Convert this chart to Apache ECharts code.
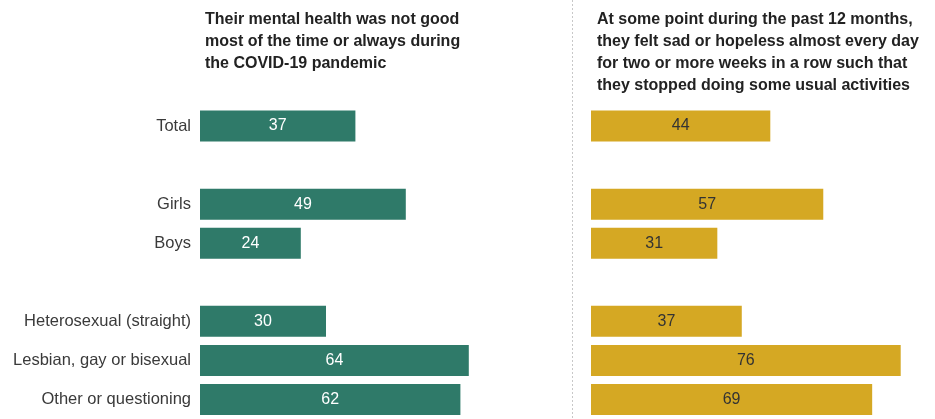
<!DOCTYPE html>
<html>
<head>
<meta charset="utf-8">
<script src="https://cdn.jsdelivr.net/npm/echarts@6/dist/echarts.min.js"></script>
<style>
  html, body { margin: 0; padding: 0; background: #fff; }
  #chart { width: 935px; height: 419px; }
</style>
</head>
<body>
<div id="chart"></div>
<script>
// categories (blank entries are spacer rows between groups)
const categories = ['Total', '', 'Girls', 'Boys', ' ', 'Heterosexual (straight)', 'Lesbian, gay or bisexual', 'Other or questioning']

// % mental health not good most of the time / always
const mentalHealth = [37, null, 49, 24, null, 30, 64, 62]
// % felt sad or hopeless almost every day for 2+ weeks
const sadHopeless = [44, null, 57, 31, null, 37, 76, 69]

const leftTitle = 'Their mental health was not good\nmost of the time or always during\nthe COVID-19 pandemic'
const rightTitle = 'At some point during the past 12 months,\nthey felt sad or hopeless almost every day\nfor two or more weeks in a row such that\nthey stopped doing some usual activities'

const FONT = '"Liberation Sans", Arial, sans-serif'
const GREEN = '#2f7a69'
const GOLD = '#d5a823'

const chart = echarts.init(document.getElementById('chart'))

chart.setOption({
  animation: false,
  backgroundColor: '#fff',
  title: [
    {
      text: leftTitle, left: 200, top: 4,
      textStyle: { fontFamily: FONT, fontSize: 16, fontWeight: 'bold', color: '#222', lineHeight: 22 }
    },
    {
      text: rightTitle, left: 592, top: 4,
      textStyle: { fontFamily: FONT, fontSize: 16, fontWeight: 'bold', color: '#222', lineHeight: 22 }
    }
  ],
  grid: [
    { left: 200, top: 106.5, width: 294, height: 316 },
    { left: 591, top: 106.5, width: 326, height: 316 }
  ],
  xAxis: [
    { gridIndex: 0, type: 'value', min: 0, max: 70, show: false },
    { gridIndex: 1, type: 'value', min: 0, max: 80, show: false }
  ],
  yAxis: [
    {
      gridIndex: 0, type: 'category', data: categories, inverse: true,
      axisLine: { show: false }, axisTick: { show: false },
      axisLabel: { margin: 9, fontFamily: FONT, fontSize: 16.5, color: '#3a3a3a' }
    },
    {
      gridIndex: 1, type: 'category', data: categories, inverse: true,
      axisLine: { show: false }, axisTick: { show: false }, axisLabel: { show: false }
    }
  ],
  series: [
    {
      type: 'bar', xAxisIndex: 0, yAxisIndex: 0, data: mentalHealth,
      barWidth: 31, itemStyle: { color: GREEN },
      label: { show: true, position: 'inside', fontFamily: FONT, fontSize: 16, color: '#fff' }
    },
    {
      type: 'bar', xAxisIndex: 1, yAxisIndex: 1, data: sadHopeless,
      barWidth: 31, itemStyle: { color: GOLD },
      label: { show: true, position: 'inside', fontFamily: FONT, fontSize: 16, color: '#333' }
    }
  ],
  graphic: [
    {
      type: 'line',
      shape: { x1: 572.5, y1: 0, x2: 572.5, y2: 419 },
      style: { stroke: '#c8c8c8', lineWidth: 1, lineDash: [2, 2] }
    }
  ]
})
</script>
</body>
</html>
